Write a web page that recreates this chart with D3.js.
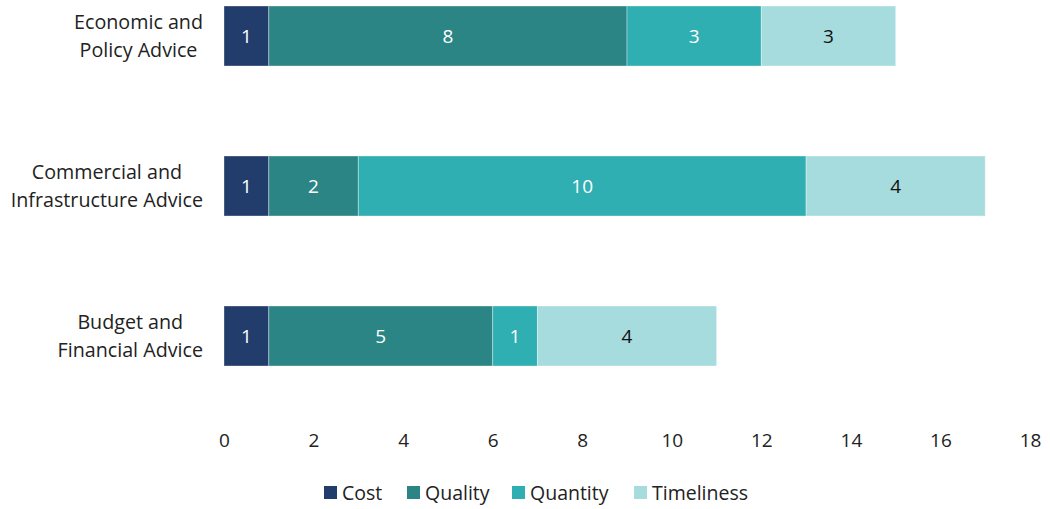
<!DOCTYPE html>
<html><head><meta charset="utf-8">
<script src="https://cdn.jsdelivr.net/npm/d3@7"></script>
<style>body{margin:0;background:#fff;} text{font-family:"Open Sans","Noto Sans",sans-serif;}</style>
</head><body>
<svg id="c" width="1050" height="509"></svg>
<script>
const categories = [["Economic and","Policy Advice"],["Commercial and","Infrastructure Advice"],["Budget and","Financial Advice"]];
const seriesNames = ["Cost","Quality","Quantity","Timeliness"];
const cost = [1,1,1];
const quality = [8,2,5];
const quantity = [3,10,1];
const timeliness = [3,4,4];
const xTicks = [0,2,4,6,8,10,12,14,16,18];
const colors = ["#223c6b","#2b8585","#2fafb2","#a6dcde"];
const labelColors = ["#fff","#fff","#fff","#111"];

const svg = d3.select("#c");
const x = d3.scaleLinear().domain([0,18]).range([224,1030]);
const keys = categories.map(c=>c.join(" "));
const y = d3.scaleBand().domain(keys).range([-39,411]).paddingInner(0.6).paddingOuter(0.3);

const rows = keys.map((k,i)=>({key:k,Cost:cost[i],Quality:quality[i],Quantity:quantity[i],Timeliness:timeliness[i]}));
const stacked = d3.stack().keys(seriesNames)(rows);

stacked.forEach((s,si)=>{
  const g = svg.append("g");
  g.selectAll("rect").data(s).enter().append("rect")
    .attr("x",d=>x(d[0])).attr("width",d=>x(d[1])-x(d[0]))
    .attr("y",d=>y(d.data.key)).attr("height",y.bandwidth())
    .attr("fill",colors[si]).attr("stroke","#ffffff").attr("stroke-opacity",0.35).attr("stroke-width",1);
  g.selectAll("text").data(s).enter().append("text")
    .attr("x",d=>(x(d[0])+x(d[1]))/2).attr("y",d=>y(d.data.key)+y.bandwidth()/2)
    .attr("dy","0.35em").attr("text-anchor","middle").attr("font-size",19)
    .attr("fill",labelColors[si]).text(d=>d[1]-d[0]);
});

// category labels
categories.forEach((c,i)=>{
  const cy = y(keys[i])+y.bandwidth()/2;
  const g = svg.append("g");
  const t = g.selectAll("text").data(c).enter().append("text")
    .attr("y",(d,j)=>cy+(j-0.5)*28).attr("dy","0.35em").attr("font-size",19.7).attr("fill","#222")
    .attr("text-anchor","middle").text(d=>d);
  let w=0; t.each(function(){w=Math.max(w,this.getComputedTextLength());});
  t.attr("x",203-w/2);
});

// x axis
const ax = svg.append("g").attr("transform","translate(0,440)")
  .call(d3.axisBottom(x).tickValues(xTicks).tickSize(0).tickPadding(0));
ax.select(".domain").remove();
ax.selectAll("text").attr("font-size",19).attr("fill","#222").attr("dy","0.35em")
  .style("font-family",'"Open Sans","Noto Sans",sans-serif');

// legend
const legX = [324,407,512,634];
const leg = svg.append("g");
seriesNames.forEach((n,i)=>{
  leg.append("rect").attr("x",legX[i]).attr("y",486).attr("width",13).attr("height",13).attr("fill",colors[i]);
  leg.append("text").attr("x",legX[i]+18).attr("y",493).attr("dy","0.35em").attr("font-size",19.5).attr("fill","#222").text(n);
});
</script>
</body></html>
